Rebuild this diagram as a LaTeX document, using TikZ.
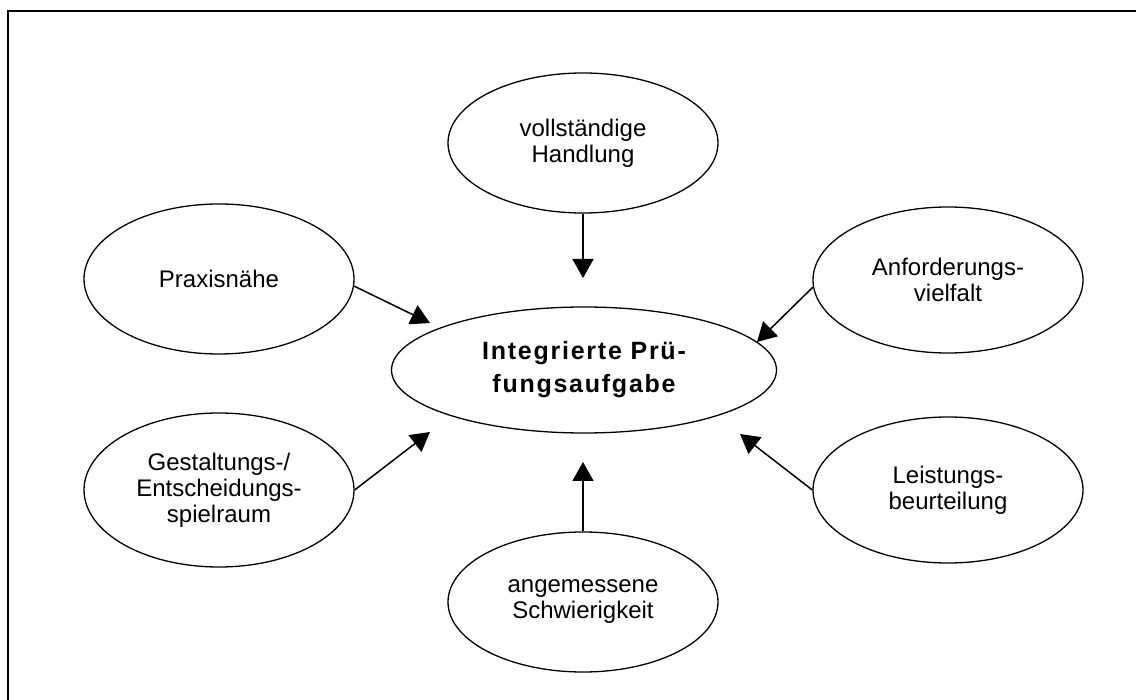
\documentclass[tikz,border=0pt]{standalone}
\usepackage{fontspec}
\setmainfont{Liberation Sans}
\newfontfamily\spacedfont{Liberation Sans}[LetterSpace=7]
\usetikzlibrary{shapes.geometric,arrows.meta}
\begin{document}
\begin{tikzpicture}[x=1pt,y=-1pt,
  bubble/.style={draw, line width=1.3pt, ellipse, minimum width=270pt, minimum height=140pt,
    inner sep=0pt, align=center, font=\fontsize{24}{26}\selectfont},
  link/.style={line width=1.5pt, -{Triangle[length=19pt,width=21pt]}},
  frame/.style={line width=2pt}]
\useasboundingbox (0,0) rectangle (1136,700);
\draw[frame] (8,700) -- (8,11) -- (1136,11);

\node[bubble] (top) at (583,143) {vollständige\\Handlung};
\node[bubble, minimum height=150pt] (prax) at (219,279) {Praxisnähe};
\node[bubble, minimum height=146pt] (anf) at (948,280) {Anforderungs-\\vielfalt};
\node[bubble, minimum height=154pt] (gest) at (219,490) {Gestaltungs-/\\Entscheidungs-\\spielraum};
\node[bubble, minimum height=146pt] (leist) at (948,490) {Leistungs-\\beurteilung};
\node[bubble] (schw) at (583,602) {angemessene\\Schwierigkeit};
\node[bubble, minimum width=385pt, minimum height=126pt,
  font=\spacedfont\bfseries\fontsize{25}{33}\selectfont] (main) at (584,370) {Integrierte Prü-\\fungsaufgabe};

\coordinate (tTop) at (583,278);
\coordinate (tPrax) at (430,323);
\coordinate (tAnf) at (757,342);
\coordinate (tGest) at (430,432);
\coordinate (tLeist) at (740,434);
\coordinate (tSchw) at (583,462);

\draw[link] (top.south) -- (tTop);
\draw[link] (prax.-3) -- (tPrax);
\draw[link] (anf.183) -- (tAnf);
\draw[link] (gest.east) -- (tGest);
\draw[link] (leist.west) -- (tLeist);
\draw[link] (schw.north) -- (tSchw);
\end{tikzpicture}
\end{document}
